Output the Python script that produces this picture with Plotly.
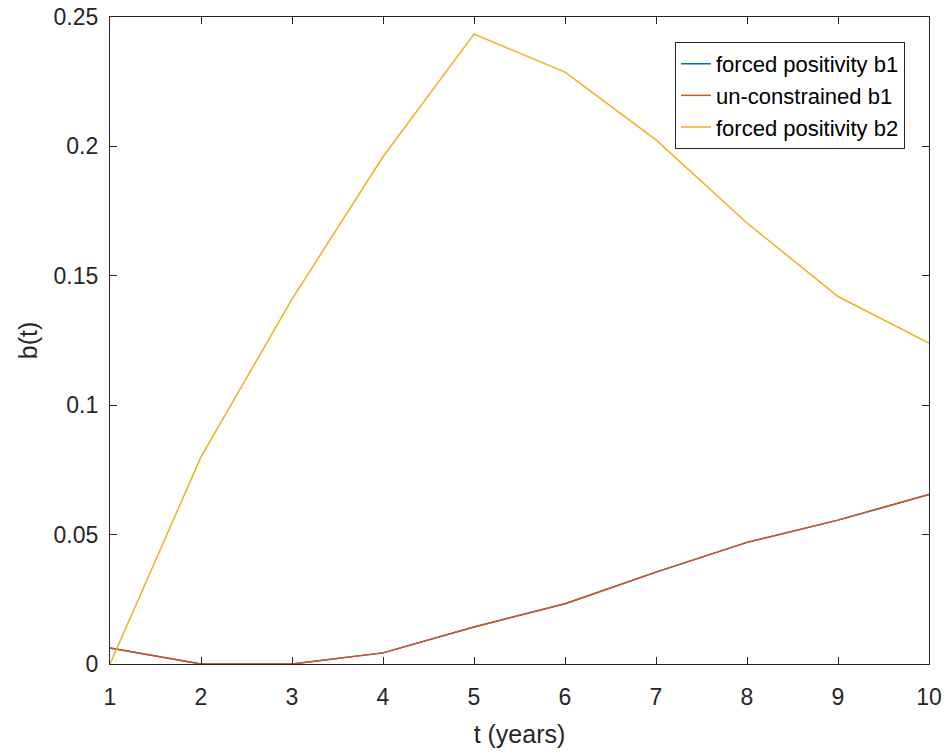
import plotly.graph_objects as go

t = [1, 2, 3, 4, 5, 6, 7, 8, 9, 10]
b1_forced = [0.0062, 0.0, 0.0, 0.0043, 0.0143, 0.0233, 0.0355, 0.047, 0.0556, 0.0655]
b1_uncon = [0.0062, 0.0, 0.0, 0.0043, 0.0143, 0.0233, 0.0355, 0.047, 0.0556, 0.0655]
b2_forced = [0.0, 0.080, 0.141, 0.196, 0.2434, 0.2287, 0.2025, 0.1704, 0.142, 0.124]

xticks = [1, 2, 3, 4, 5, 6, 7, 8, 9, 10]
xticklabels = ["1", "2", "3", "4", "5", "6", "7", "8", "9", "10"]
yticks = [0, 0.05, 0.1, 0.15, 0.2, 0.25]
yticklabels = ["0", "0.05", "0.1", "0.15", "0.2", "0.25"]

font = "Liberation Sans, Arial, sans-serif"

fig = go.Figure()
fig.add_trace(go.Scatter(x=t, y=b1_forced, mode="lines", name="forced positivity b1",
                         line=dict(color="#0072BD", width=1.5)))
fig.add_trace(go.Scatter(x=t, y=b1_uncon, mode="lines", name="un-constrained b1",
                         line=dict(color="#D95319", width=1.5)))
fig.add_trace(go.Scatter(x=t, y=b2_forced, mode="lines", name="forced positivity b2",
                         line=dict(color="#EDB120", width=1.5)))

axis_common = dict(showgrid=False, zeroline=False, showline=True, linecolor="#262626",
                   linewidth=1.3, mirror="ticks", ticks="inside", ticklen=7,
                   tickcolor="#262626", tickwidth=1.3, automargin=False,
                   ticklabeloverflow="allow",
                   tickfont=dict(family=font, size=23, color="#262626"))

fig.update_layout(
    width=949, height=753,
    margin=dict(l=110, r=20, t=17, b=89, autoexpand=False),
    paper_bgcolor="white", plot_bgcolor="white",
    font=dict(family=font, color="#262626"),
    xaxis=dict(range=[1, 10], tickvals=xticks, ticktext=xticklabels, ticklabelstandoff=12,
               title=dict(text="t (years)", font=dict(family=font, size=25, color="#262626"), standoff=16),
               **axis_common),
    yaxis=dict(range=[0, 0.25], tickvals=yticks, ticktext=yticklabels, ticklabelstandoff=6,
               title=dict(text="b(t)", font=dict(family=font, size=25, color="#262626"), standoff=8),
               **axis_common),
    legend=dict(x=0.9707, y=0.9614, xanchor="right", yanchor="top",
                bgcolor="white", bordercolor="#262626", borderwidth=1,
                font=dict(family=font, size=22, color="#000000"),
                tracegroupgap=0),
    showlegend=True,
)

fig.write_html("out.html", config={"displayModeBar": False},
               post_script="document.body.style.margin='0px';document.body.style.padding='0px';")
